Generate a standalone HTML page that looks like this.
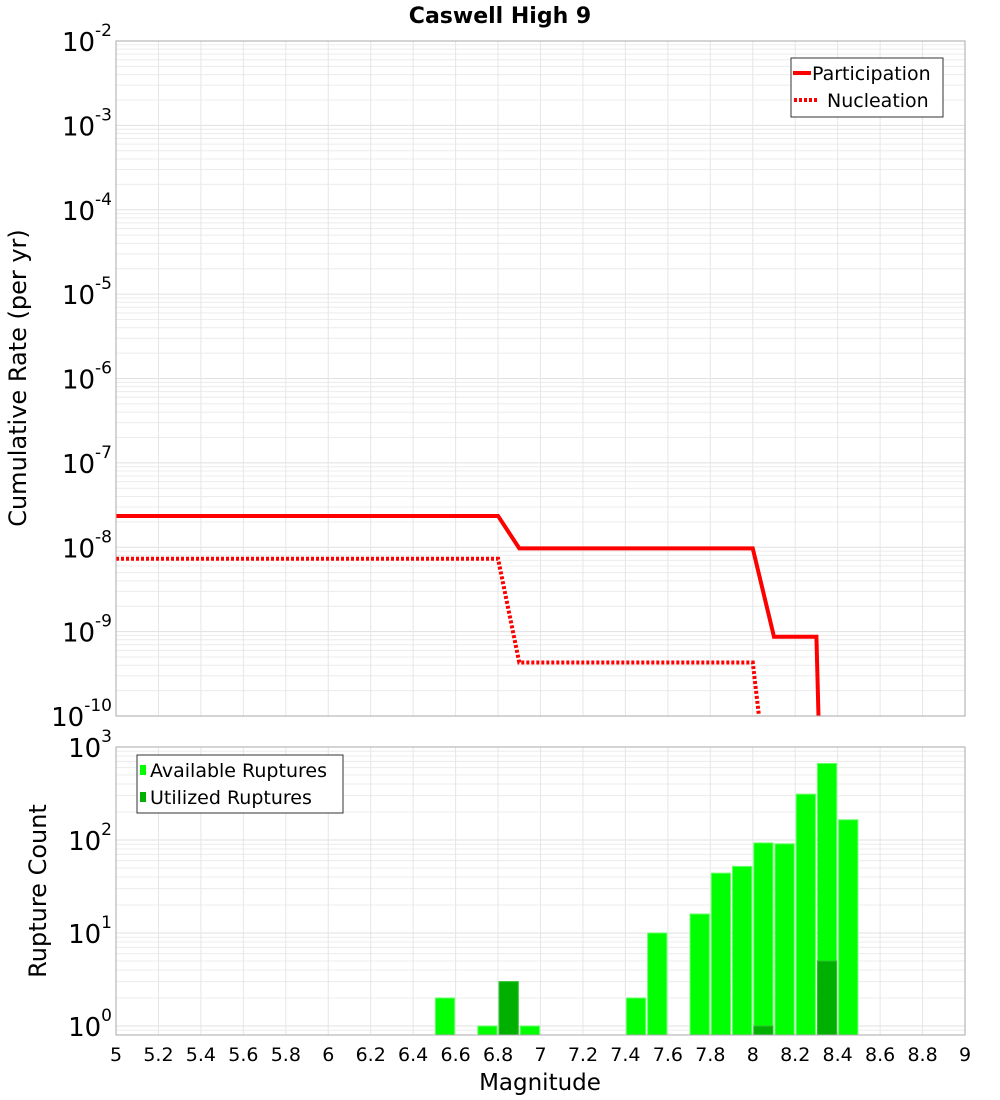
<!DOCTYPE html>
<html><head><meta charset="utf-8"><style>
body{margin:0;background:#fff;}
svg{display:block;font-family:"DejaVu Sans","Liberation Sans",sans-serif;}
</style></head><body>
<svg id="chart" width="1000" height="1100" xmlns="http://www.w3.org/2000/svg">
<text x="500" y="23" text-anchor="middle" font-size="22" font-weight="bold">Caswell High 9</text>
<g id="top"></g><g id="bot"></g>
<text transform="translate(26,378) rotate(-90)" text-anchor="middle" font-size="24">Cumulative Rate (per yr)</text>
<text transform="translate(46,891) rotate(-90)" text-anchor="middle" font-size="24">Rupture Count</text>
<text x="540" y="1090" text-anchor="middle" font-size="23">Magnitude</text>
</svg>
<script>
const partMag=[5,6.8,6.9,8.0,8.1,8.3,8.32];
const partRate=[2.35e-8,2.35e-8,9.7e-9,9.7e-9,8.7e-10,8.7e-10,1e-11];
const nuclMag=[5,6.8,6.9,8.0,8.1];
const nuclRate=[7.3e-9,7.3e-9,4.3e-10,4.3e-10,3e-12];
const binMag=[6.55,6.75,6.85,6.95,7.45,7.55,7.75,7.85,7.95,8.05,8.15,8.25,8.35,8.45];
const availCount=[2,1,3,1,2,10,16,44,52,93,91,311,665,165];
const usedMag=[6.85,8.05,8.35];
const usedCount=[3,1,5];
const xTicks=[5,5.2,5.4,5.6,5.8,6,6.2,6.4,6.6,6.8,7,7.2,7.4,7.6,7.8,8,8.2,8.4,8.6,8.8,9];
const topExp=[-2,-3,-4,-5,-6,-7,-8,-9,-10];
const botExp=[3,2,1,0];
const NS="http://www.w3.org/2000/svg";
const L=116,R=965,T1=41,B1=716,T2=747,B2=1035;
const x=m=>L+(m-5)/4*(R-L);
const y1=v=>T1+(-2-Math.log10(v))*(B1-T1)/8;
const y2=v=>T2+(3-Math.log10(v))*93;
function mk(p,tag,a){const e=document.createElementNS(NS,tag);for(const k in a)e.setAttribute(k,a[k]);p.appendChild(e);return e;}
const svg=document.getElementById('chart');
function panel(g,top,bot,yf,lo,hi,name){
  const bg=mk(g,'rect',{x:L,y:top,width:R-L,height:bot-top,fill:'#fff',stroke:'none'});
  
  for(let e=lo;e<hi;e++)for(let k=1;k<10;k++){const yy=yf(k*Math.pow(10,e));if(yy<top||yy>bot)continue;
    const ln=mk(g,'line',{x1:L,x2:R,y1:yy,y2:yy,stroke:k==1?'#e0e0e0':'#ececec','stroke-width':1});
    }
  xTicks.forEach(t=>{const ln=mk(g,'line',{x1:x(t),x2:x(t),y1:top,y2:bot,stroke:'#e6e6e6'});
    });
}
const gt=document.getElementById('top'),gb=document.getElementById('bot');
panel(gt,T1,B1,y1,-11,-1,'top');
panel(gb,T2,B2,y2,-1,3,'bottom');
const clip=mk(svg,'clipPath',{id:'c1'});mk(clip,'rect',{x:L,y:T1,width:R-L,height:B1-T1});
const pp=mk(gt,'polyline',{points:partMag.map((m,i)=>x(m)+','+y1(partRate[i])).join(' '),fill:'none',stroke:'#ff0000','stroke-width':4,'clip-path':'url(#c1)'});

const np=mk(gt,'polyline',{points:nuclMag.map((m,i)=>x(m)+','+y1(nuclRate[i])).join(' '),fill:'none',stroke:'#ff0000','stroke-width':4,'stroke-dasharray':'3,2','clip-path':'url(#c1)'});

const bw=(R-L)/40;
binMag.forEach((m,i)=>{const yy=y2(availCount[i]);const r=mk(gb,'rect',{x:x(m)-bw/2+1,y:yy,width:bw-2,height:B2-yy,fill:'#00ff00',stroke:'#66ff66','stroke-width':1});
  });
usedMag.forEach((m,i)=>{const yy=y2(usedCount[i]);const r=mk(gb,'rect',{x:x(m)-bw/2+1,y:yy,width:bw-2,height:B2-yy,fill:'#00b000',stroke:'#33c033','stroke-width':1});
  });
[[T1,B1,'top'],[T2,B2,'bottom']].forEach(([a,b,n])=>{const r=mk(svg,'rect',{x:L,y:a,width:R-L,height:b-a,fill:'none',stroke:'#aaaaaa'});
  });
function ylab(e,yy,name){const t=mk(svg,'text',{x:112,y:yy+10,'text-anchor':'end','font-size':26});
  
  t.textContent='10';const s=mk(t,'tspan',{dy:-15,'font-size':17});s.textContent=String(e);}
topExp.forEach(e=>ylab(e,y1(Math.pow(10,e)),'top-y-tick-label'));
botExp.forEach(e=>ylab(e,y2(Math.pow(10,e)),'bottom-y-tick-label'));
xTicks.forEach(t=>{const tx=mk(svg,'text',{x:x(t),y:1061,'text-anchor':'middle','font-size':19});
  tx.textContent=String(t);});
function legend(x0,y0,w,h,items,name){const g=mk(svg,'g',{});
  mk(g,'rect',{x:x0,y:y0,width:w,height:h,fill:'#fff',stroke:'#333'});
  items.forEach((it,i)=>{const yy=y0+15+i*27;it.sym(g,yy);const t=mk(g,'text',{x:it.tx,y:yy+7,'font-size':19});t.textContent=it.label;});}
legend(791,58,152,59,[
 {label:'Participation',tx:812,sym:(g,yy)=>mk(g,'line',{x1:793,x2:811,y1:yy,y2:yy,stroke:'#f00','stroke-width':4})},
 {label:'Nucleation',tx:827,sym:(g,yy)=>mk(g,'line',{x1:794,x2:818,y1:yy,y2:yy,stroke:'#f00','stroke-width':4,'stroke-dasharray':'3,2'})}],'rate-legend');
legend(137,755,206,58,[
 {label:'Available Ruptures',tx:150,sym:(g,yy)=>mk(g,'rect',{x:140,y:yy-5,width:6,height:10,fill:'#00ff00'})},
 {label:'Utilized Ruptures',tx:150,sym:(g,yy)=>mk(g,'rect',{x:140,y:yy-5,width:6,height:10,fill:'#00b000'})}],'rupture-legend');
</script>
</body></html>
